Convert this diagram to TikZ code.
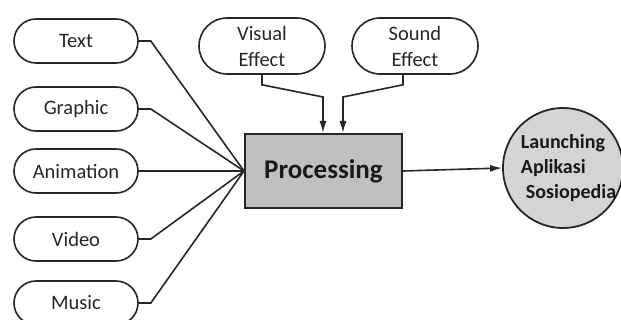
\documentclass[tikz,border=0pt]{standalone}
\usepackage{fontspec}
\setmainfont{Carlito}
\usetikzlibrary{shapes.misc,arrows.meta,calc}
\definecolor{boxgray}{HTML}{C0C0C0}
\definecolor{circgray}{HTML}{D4D4D4}
\definecolor{ink}{HTML}{262626}
\begin{document}
\begin{tikzpicture}[x=1pt,y=-1pt,
  pill/.style={rounded rectangle, draw=ink, line width=1.6pt,
    minimum width=128pt, minimum height=44pt, inner sep=2pt,
    font=\fontsize{20.5}{26}\selectfont, text=black!85, align=center},
  wire/.style={draw=ink, line width=1.6pt},
  arr/.style={wire, -{Latex[length=12pt,width=7pt]}}]
\useasboundingbox (0,0) rectangle (621,320);

% media inputs on the left
\node[pill] (text) at (76,41)  {Text};
\node[pill] (graphic) at (76,109) {Graphic};
\node[pill] (anim) at (76,171) {Animation};
\node[pill] (video) at (76,239) {Video};
\node[pill] (music) at (76,303) {Music};

% effect inputs on top
\node[pill, minimum width=130pt, minimum height=56pt] (ve) at (262,46) {Visual\\Effect};
\node[pill, minimum width=130pt, minimum height=56pt] (se) at (415,46) {Sound\\Effect};

% processing block
\node[draw=ink, line width=2pt, fill=boxgray, minimum width=157pt, minimum height=74pt,
  text=black!90, font=\bfseries\fontsize{27}{30}\selectfont] (proc) at (323.5,171) {Processing};

% result
\node[circle, draw=ink, line width=1.8pt, fill=circgray, minimum size=120pt] (launch) at (563,168) {};
\node[align=left, inner sep=0pt, text=black!90, font=\bfseries\fontsize{20}{25}\selectfont]
  (launchtxt) at ([xshift=5.5pt]launch.center) {Launching\\Aplikasi\\\hspace{5pt}Sosiopedia};

% fan-in from the media inputs
\foreach \n in {text,graphic,video,music}
  \draw[wire] (\n.east) -- ++(12,0) -- (proc.west);
\draw[wire] (anim.east) -- (proc.west);

% effects feeding the processing block
\draw[arr] (ve.south) -- ++(0,10) -- (323,97) -- ([xshift=-0.5pt]proc.north);
\draw[arr] ([xshift=-12pt]se.south) -- ++(0,10) -- (343,97) -- ([xshift=19.5pt]proc.north);

% output
\draw[arr] (proc.east) -- (launch.west);
\end{tikzpicture}
\end{document}
